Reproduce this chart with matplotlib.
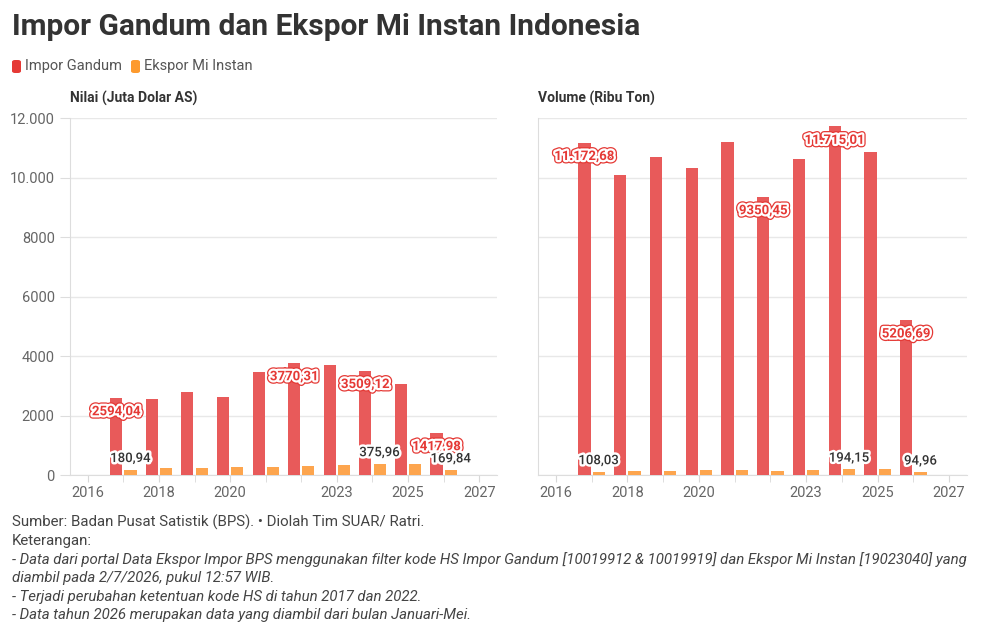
import matplotlib.pyplot as plt
from matplotlib.patches import FancyBboxPatch
import matplotlib.patheffects as pe

# data
years = [2017, 2018, 2019, 2020, 2021, 2022, 2023, 2024, 2025, 2026]
nilai_gandum = [2594.04, 2570, 2800, 2620, 3460, 3770.31, 3686, 3509.12, 3060, 1417.98]
nilai_mi = [180.94, 225, 235, 280, 258, 302, 336, 375.96, 380, 169.84]
volume_gandum = [11172.68, 10100, 10680, 10310, 11185, 9350.45, 10610, 11715.01, 10860, 5206.69]
volume_mi = [108.03, 130, 130, 165, 160, 140, 160, 194.15, 200, 94.96]

# which bars get a value label (index into years)
label_idx = {
    "nilai_gandum": [0, 5, 7, 9],
    "nilai_mi": [0, 7, 9],
    "volume_gandum": [0, 5, 7, 9],
    "volume_mi": [0, 7, 9],
}

xticks = [2016, 2018, 2020, 2023, 2025, 2027]
yticks = [0, 2000, 4000, 6000, 8000, 10000, 12000]

RED = "#E85A5A"
ORANGE = "#FDA54E"
RED_LEG = "#E53935"
ORANGE_LEG = "#FD9A2E"
FONT = "Roboto"

plt.rcParams["font.family"] = [FONT, "DejaVu Sans"]


def fmt(v):
    s = f"{v:,.2f}"
    s = s.replace(",", "X").replace(".", ",").replace("X", ".")
    if v < 10000:
        s = s.replace(".", "")
    return s


def ytick_fmt(v):
    v = int(v)
    if v >= 10000:
        return f"{v:,}".replace(",", ".")
    return str(v)


red_fx = [pe.Stroke(linewidth=5, foreground="#E53935"),
          pe.Stroke(linewidth=3.2, foreground="white"), pe.Normal()]
dark_fx = [pe.withStroke(linewidth=3.5, foreground="white")]


def draw_panel(ax, red, orange, red_lbl, orange_lbl, show_y):
    w = 0.34
    xr = [y - 0.2 for y in years]
    xo = [y + 0.2 for y in years]
    ax.bar(xr, red, width=w, color=RED, zorder=3)
    ax.bar(xo, orange, width=w, color=ORANGE, zorder=3)
    ax.set_xlim(2015.5, 2027.5)
    ax.set_ylim(0, 12000)
    ax.set_yticks(yticks)
    ax.grid(axis="y", color="#e8e8e8", lw=1, zorder=0)
    ax.set_xticks(years, minor=True)
    ax.set_xticks(xticks)
    ax.set_xticklabels([str(t) for t in xticks])
    ax.tick_params(axis="x", which="both", length=5, color="#d8d8d8",
                   labelsize=10.5, labelcolor="#666666", pad=3)
    if show_y:
        ax.set_yticklabels([ytick_fmt(t) for t in yticks])
        ax.tick_params(axis="y", length=7, color="#dddddd", labelsize=10.5,
                       labelcolor="#666666", pad=4)
    else:
        ax.tick_params(axis="y", length=0, labelleft=False)
    for s in ["top", "right"]:
        ax.spines[s].set_visible(False)
    ax.spines["left"].set_color("#dddddd")
    ax.spines["bottom"].set_color("#dddddd")

    for i in red_lbl:
        ax.annotate(fmt(red[i]), (xr[i], red[i]), xytext=(0, -10),
                    textcoords="offset points", ha="center", va="center",
                    fontsize=9.5, fontweight="bold", color="#E53935", zorder=5,
                    path_effects=red_fx)
    for i in orange_lbl:
        ax.annotate(fmt(orange[i]), (xo[i], orange[i]), xytext=(0, 8),
                    textcoords="offset points", ha="center", va="center",
                    fontsize=9.5, fontweight="medium", color="#333333", zorder=5,
                    path_effects=dark_fx)


fig = plt.figure(figsize=(10, 6.29), dpi=100)
ax1 = fig.add_axes([0.070, 0.2448, 0.427, 0.5676])
ax2 = fig.add_axes([0.538, 0.2448, 0.429, 0.5676])

draw_panel(ax1, nilai_gandum, nilai_mi, label_idx["nilai_gandum"], label_idx["nilai_mi"], True)
draw_panel(ax2, volume_gandum, volume_mi, label_idx["volume_gandum"], label_idx["volume_mi"], False)

H = 629
fig.text(0.012, 1 - 27 / H, "Impor Gandum dan Ekspor Mi Instan Indonesia",
         fontsize=21.5, fontweight="bold", color="#333333", va="center")

# legend
for x0, col, txt in [(12, RED_LEG, "Impor Gandum"), (131, ORANGE_LEG, "Ekspor Mi Instan")]:
    fig.patches.append(FancyBboxPatch((x0 / 1000, (H - 73) / H), 9 / 1000, 13 / H,
                                      boxstyle="round,pad=0,rounding_size=0.003",
                                      transform=fig.transFigure, color=col, lw=0))
    fig.text((x0 + 13) / 1000, 1 - 66 / H, txt, fontsize=10.5, color="#555555", va="center")

fig.text(0.070, 1 - 98 / H, "Nilai (Juta Dolar AS)", fontsize=10, fontweight="semibold",
         color="#333333", va="center")
fig.text(0.538, 1 - 98 / H, "Volume (Ribu Ton)", fontsize=10, fontweight="semibold",
         color="#333333", va="center")

notes = [
    ("Sumber: Badan Pusat Satistik (BPS). \u2022 Diolah Tim SUAR/ Ratri.", "normal"),
    ("Keterangan:", "normal"),
    ("- Data dari portal Data Ekspor Impor BPS menggunakan filter kode HS Impor Gandum [10019912 & 10019919] dan Ekspor Mi Instan [19023040] yang", "italic"),
    ("diambil pada 2/7/2026, pukul 12:57 WIB.", "italic"),
    ("- Terjadi perubahan ketentuan kode HS di tahun 2017 dan 2022.", "italic"),
    ("- Data tahun 2026 merupakan data yang diambil dari bulan Januari-Mei.", "italic"),
]
for k, (t, st) in enumerate(notes):
    fig.text(0.012, 1 - (522 + k * 18.7) / H, t, fontsize=10.8, style=st,
             color="#444444", va="center")

fig.savefig("out.png", dpi=100, facecolor="white")
